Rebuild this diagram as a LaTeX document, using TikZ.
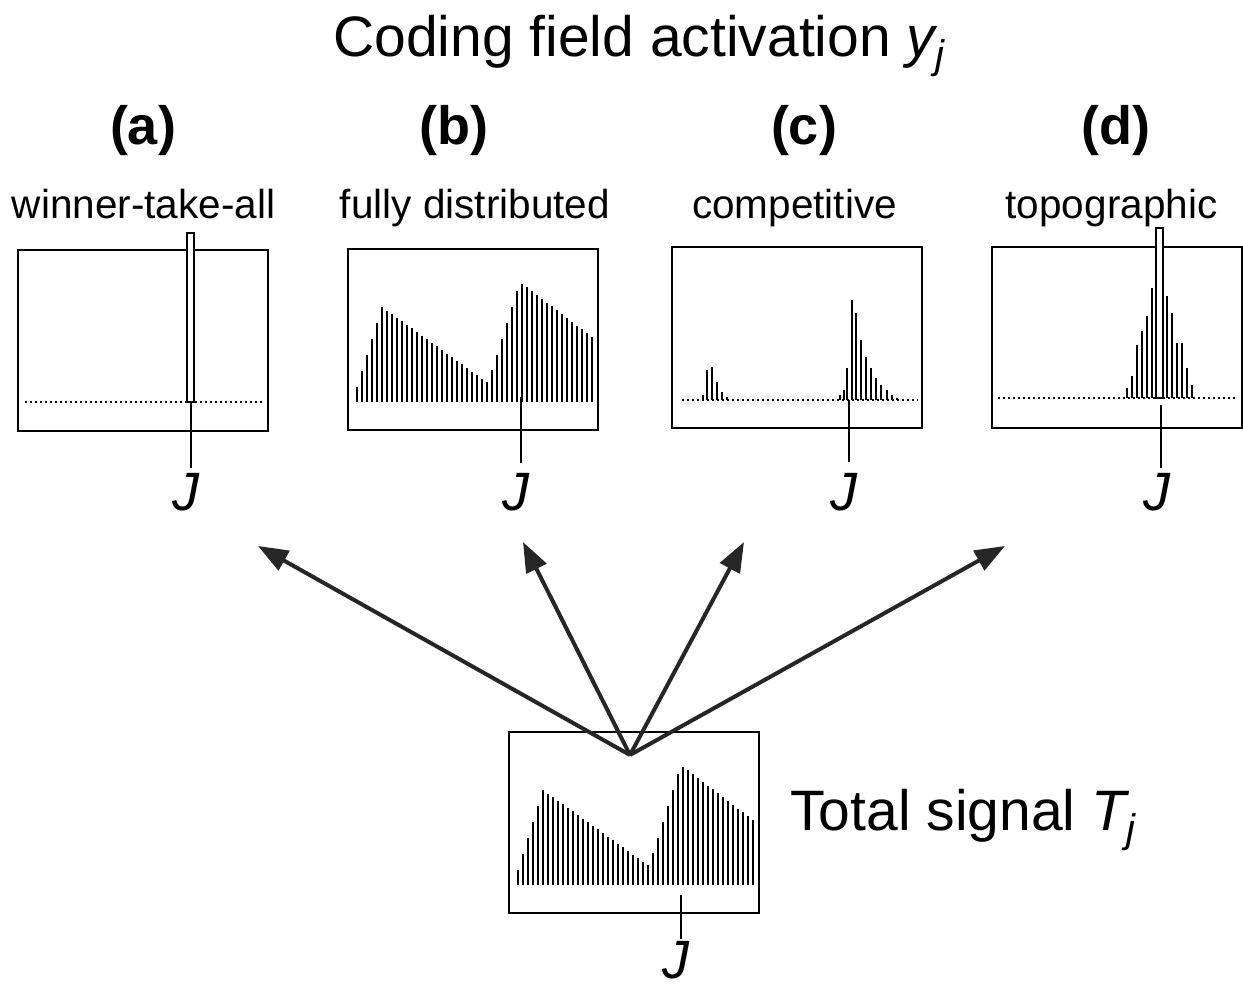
\documentclass[tikz,border=0pt]{standalone}
\usepackage{fontspec}
\setmainfont{Liberation Sans}
\usetikzlibrary{arrows.meta}
\newcommand\sigbars{%
  \foreach \o in {9,14,...,244}{%
    \pgfmathsetmacro\h{\o<34 ? 15+3.2*(\o-9) : (\o<140 ? 95-0.717*(\o-34) : (\o<172 ? 19+3.156*(\o-140) : 120-0.764*(\o-172)))}%
    \draw[bar] (\o,28) -- ++(0,\h);}}
\begin{document}
\begin{tikzpicture}[x=0.5pt,y=0.5pt,
panel/.style={draw,line width=0.8pt,anchor=south west,inner sep=0pt,outer sep=0pt,minimum width=125pt,minimum height=90.5pt},
bar/.style={line width=1.3pt},
dotline/.style={line width=1pt,dash pattern=on 1pt off 1.5pt},
jtick/.style={line width=0.8pt},
peak/.style={draw,fill=white,line width=0.8pt},
fan/.style={line width=2pt,draw=black!85,fill=black!85,-{Triangle[length=15pt,width=11pt]}},
bigtext/.style={font=\fontsize{28.5}{34}\selectfont,anchor=base west,inner sep=0pt},
tag/.style={font=\fontsize{27}{32}\selectfont\bfseries,anchor=base},
kind/.style={font=\fontsize{20.25}{24}\selectfont,anchor=base},
jlab/.style={font=\fontsize{27}{32}\selectfont\itshape,anchor=base,inner sep=0pt}]
\useasboundingbox (0,0) rectangle (1243,988);
\node[bigtext] (title) at (333,931) {Coding field activation {\itshape y}\textsubscript{\itshape j}};
\node[tag] (la) at (143,843) {(a)};
\node[tag] (lb) at (454,843) {(b)};
\node[tag] (lc) at (804,843) {(c)};
\node[tag] (ld) at (1116,843) {(d)};
\node[kind] (ka) at (143.5,769) {winner-take-all};
\node[kind] (kb) at (475,769) {fully distributed};
\node[kind] (kc) at (794.5,769) {competitive};
\node[kind] (kd) at (1111.5,769) {topographic};
\node[panel] (pa) at (18,557) {};
\node[panel] (pb) at (348,558) {};
\node[panel] (pc) at (672,560) {};
\node[panel] (pd) at (992,560) {};
\node[panel] (ps) at (509,75) {};
\node[bigtext] (total) at (790,157) {Total signal {\itshape T}\textsubscript{\itshape j}};
\begin{scope}[shift={(pa.south west)}]
\draw[dotline] (7,29) -- (244,29);
\draw[jtick] (173,29) -- (173,-37);
\draw[peak] (169,29) rectangle (176,198);
\node[jlab] (ja) at (168,-80) {J};
\end{scope}
\begin{scope}[shift={(pb.south west)}]
\sigbars
\draw[jtick] (173,33) -- (173,-33);
\node[jlab] (jb) at (168,-81) {J};
\end{scope}
\begin{scope}[shift={(pc.south west)}]
\draw[dotline] (10,28) -- (246,28);
\foreach \o/\h in {31/5,35/30,40/33,45/18,50/8,55/3,168/5,172/10,175/32,180/100,184/87,189/60,194/43,199/32,204/22,209/15,215/10,220/5,225/2}
  \draw[bar] (\o,28) -- ++(0,\h);
\draw[jtick] (177,28) -- (177,-34);
\node[jlab] (jc) at (172,-83) {J};
\end{scope}
\begin{scope}[shift={(pd.south west)}]
\draw[dotline] (6,30) -- (243,30);
\foreach \o/\h in {135/10,140/22,145/53,150/67,155/82,160/110,175/102,180/85,185/55,190/55,195/30,200/13}
  \draw[bar] (\o,30) -- ++(0,\h);
\draw[peak] (164,30) rectangle (171,200);
\draw[jtick] (169,23) -- (169,-40);
\node[jlab] (jd) at (165,-83) {J};
\end{scope}
\begin{scope}[shift={(ps.south west)}]
\sigbars
\draw[jtick] (172,18) -- (172,-26);
\node[jlab] (js) at (167,-66) {J};
\end{scope}
\coordinate (src) at (630,233);
\coordinate (ta) at (258,442);
\coordinate (tb) at (523,446);
\coordinate (tc) at (744,446);
\coordinate (td) at (1005,442);
\foreach \t in {ta,tb,tc,td}
  \draw[fan] (src) -- (\t);
\end{tikzpicture}
\end{document}
